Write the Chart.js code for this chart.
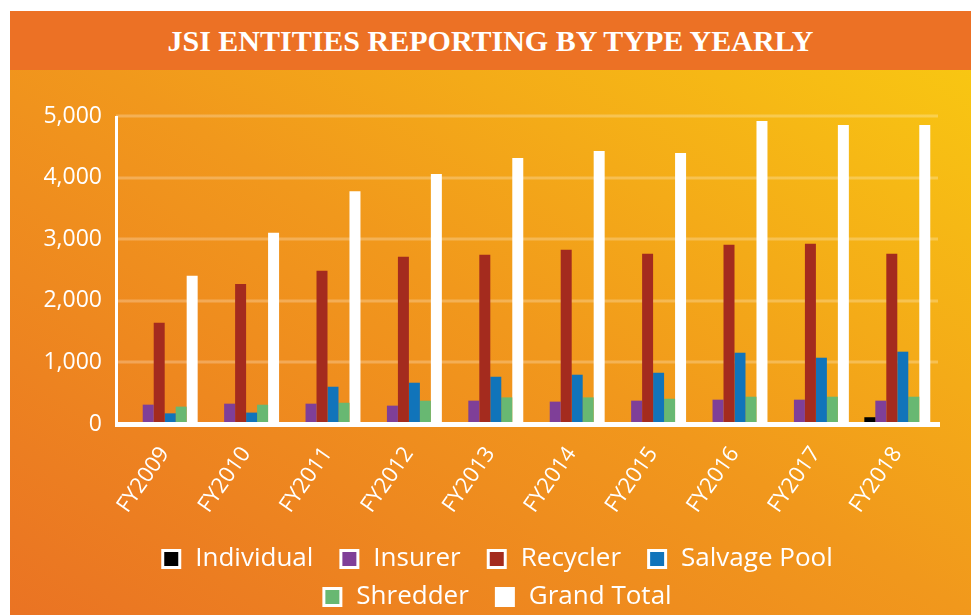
<!DOCTYPE html>
<html>
<head>
<meta charset="utf-8">
<script src="https://cdn.jsdelivr.net/npm/chart.js@4"></script>
<style>
  html,body{margin:0;padding:0;}
  body{width:971px;height:615px;overflow:hidden;background:#fff;position:relative;}
  #bg{position:absolute;left:10px;top:11px;width:961px;height:604px;background:linear-gradient(to top right,#EA7323 0%,#F1981C 50%,#F9CB11 100%);}
  #hdr{position:absolute;left:10px;top:11px;width:961px;height:59px;background:#EC7125;color:#fff;
       font-family:'Liberation Serif',serif;font-weight:bold;font-size:30px;
       display:flex;align-items:center;justify-content:center;letter-spacing:0px;}
  #wrap{position:absolute;left:10px;top:70px;width:961px;height:550px;}
</style>
</head>
<body>
<div id="bg"></div>
<div id="hdr">JSI ENTITIES REPORTING BY TYPE YEARLY</div>
<div id="wrap"><canvas id="c" width="961" height="550"></canvas></div>
<script>
const categories = ['FY2009','FY2010','FY2011','FY2012','FY2013','FY2014','FY2015','FY2016','FY2017','FY2018'];
const individual = [0, 0, 0, 0, 0, 0, 0, 0, 0, 110];
const insurer    = [314, 330, 330, 298, 379, 363, 379, 395, 395, 379];
const recycler   = [1643, 2272, 2487, 2714, 2746, 2827, 2762, 2908, 2925, 2762];
const salvagePool= [173, 185, 605, 670, 767, 800, 832, 1157, 1076, 1174];
const shredder   = [282, 313, 345, 378, 432, 432, 410, 443, 443, 443];
const grandTotal = [2405, 3103, 3780, 4060, 4320, 4433, 4400, 4920, 4855, 4855];
const yTicks = [0, 1000, 2000, 3000, 4000, 5000];

const FONT = "'Open Sans', sans-serif";
const SWATCH_W = 35;

// legend swatch: white-bordered square sitting at the right end of a wider transparent image
function swatch(color) {
  const c = document.createElement('canvas');
  c.width = SWATCH_W; c.height = 22;
  const g = c.getContext('2d');
  g.fillStyle = '#ffffff';
  g.fillRect(SWATCH_W - 21, 1, 20, 20);
  g.fillStyle = color;
  g.fillRect(SWATCH_W - 18, 4, 14, 14);
  return c;
}

// narrow the legend box so it wraps into two centred rows like the original
const legendBox = {
  id: 'legendBox',
  beforeDraw(chart) {
    const lg = chart.legend;
    if (!lg) return;
    const left = 60, right = 900;
    lg.maxWidth = right - left;
    lg.fit();
    lg.left = left; lg.right = right; lg.width = right - left;
  }
};

const axisLines = {
  id: 'axisLines',
  beforeDatasetsDraw(chart) {
    const {ctx, chartArea, scales} = chart;
    const y = scales.y;
    ctx.save();
    ctx.strokeStyle = 'rgba(255,255,255,0.25)';
    ctx.lineWidth = 3;
    yTicks.forEach(v => {
      if (v === 0) return;
      const py = Math.round(y.getPixelForValue(v));
      ctx.beginPath();
      ctx.moveTo(chartArea.left - 8, py);
      ctx.lineTo(chartArea.right, py);
      ctx.stroke();
    });
    ctx.restore();
  },
  afterDatasetsDraw(chart) {
    const {ctx, chartArea, scales} = chart;
    const y = scales.y;
    const base = y.getPixelForValue(0);
    ctx.save();
    ctx.strokeStyle = '#ffffff';
    ctx.lineWidth = 3;
    ctx.beginPath();
    ctx.moveTo(chartArea.left - 7.5, chartArea.top);
    ctx.lineTo(chartArea.left - 7.5, base + 3);
    ctx.stroke();
    ctx.lineWidth = 5;
    ctx.beginPath();
    ctx.moveTo(chartArea.left - 9, base + 0.5);
    ctx.lineTo(chartArea.right + 2, base + 0.5);
    ctx.stroke();
    ctx.restore();
  }
};

const mk = (label, data, color) => ({label, data, backgroundColor: color, borderWidth: 0,
  categoryPercentage: 0.81, barPercentage: 1.0});

new Chart(document.getElementById('c'), {
  type: 'bar',
  data: {
    labels: categories,
    datasets: [
      mk('Individual', individual, '#000000'),
      mk('Insurer', insurer, '#7F3F98'),
      mk('Recycler', recycler, '#A42B1E'),
      mk('Salvage Pool', salvagePool, '#1174BA'),
      mk('Shredder', shredder, '#68B872'),
      mk('Grand Total', grandTotal, '#FFFFFF')
    ]
  },
  options: {
    responsive: false,
    animation: false,
    events: [],
    layout: {padding: {top: 46, right: 33, left: 0, bottom: 0}},
    scales: {
      x: {
        grid: {display: false, drawTicks: false},
        border: {display: false},
        afterFit(s) { s.height = 110; },
        ticks: {
          color: '#fff', autoSkip: false, maxRotation: 55, minRotation: 55,
          padding: 18, font: {family: FONT, size: 22}
        }
      },
      y: {
        min: 0, max: 5000,
        afterFit(s) { s.width = 114; },
        grid: {display: false, drawTicks: false},
        border: {display: false},
        afterBuildTicks(s) { s.ticks = yTicks.map(v => ({value: v})); },
        ticks: {
          color: '#fff', padding: 22, font: {family: FONT, size: 23},
          callback: v => v.toLocaleString('en-US')
        }
      }
    },
    plugins: {
      title: {display: false},
      tooltip: {enabled: false},
      legend: {
        position: 'bottom',
        labels: {
          color: '#fff', usePointStyle: true, pointStyleWidth: SWATCH_W,
          boxWidth: 22, boxHeight: 22, padding: 12,
          font: {family: FONT, size: 26},
          generateLabels(chart) {
            return chart.data.datasets.map((ds, i) => ({
              text: ds.label, pointStyle: swatch(ds.backgroundColor),
              fillStyle: ds.backgroundColor, strokeStyle: '#ffffff',
              lineWidth: 0, hidden: false, datasetIndex: i, fontColor: '#fff'
            }));
          }
        }
      }
    }
  },
  plugins: [legendBox, axisLines]
});
</script>
</body>
</html>
